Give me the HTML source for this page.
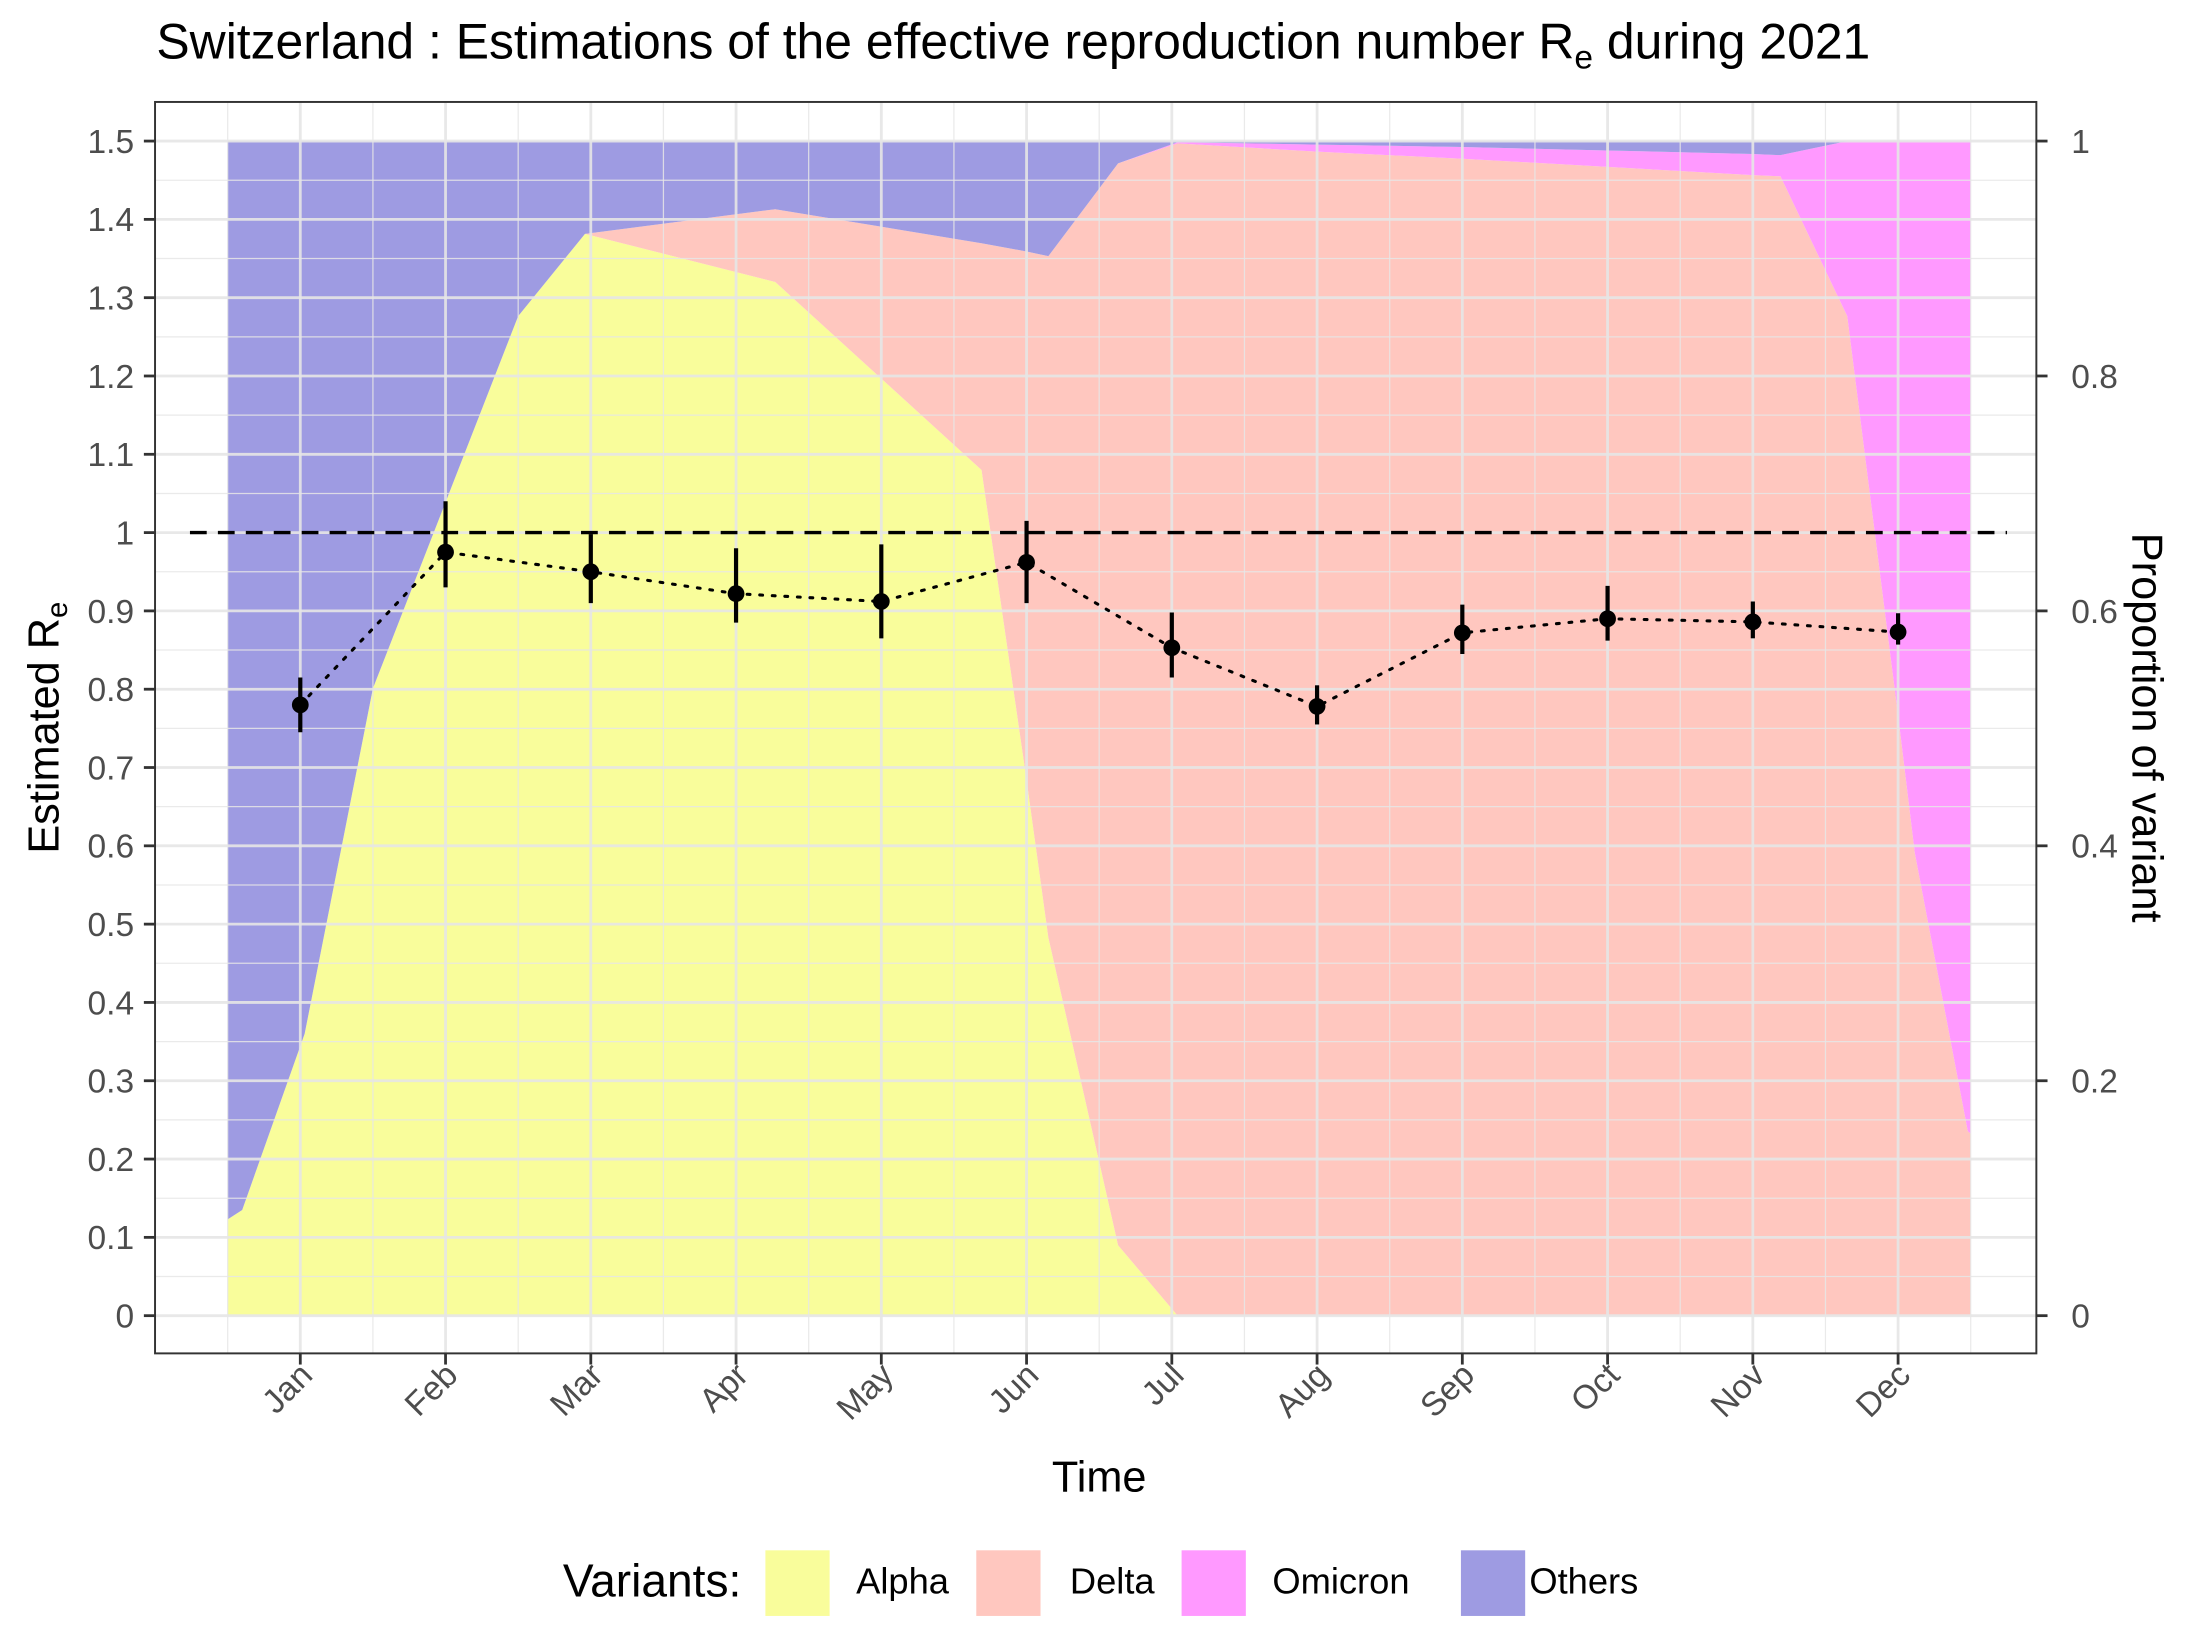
<!DOCTYPE html>
<html><head><meta charset="utf-8"><style>
html,body{margin:0;padding:0;background:#fff;}
svg{display:block;font-family:"Liberation Sans",Arial,sans-serif;}
</style></head><body>
<svg id="chart" width="2190" height="1642" viewBox="0 0 1568 1175.65" xmlns="http://www.w3.org/2000/svg">
<rect x="0" y="0" width="1568" height="1176" fill="#fff"/>
<g id="areas"></g>
<g id="grid"></g>
<g id="marks"></g>
<rect x="111" y="73" width="1347" height="896" fill="none" stroke="#333" stroke-width="1.4"/>
<g id="axes"></g>
<text x="112" y="42" fill="#000" style="font-size:35.7px">Switzerland : Estimations of the effective reproduction number R<tspan style="font-size:24px" dy="7">e</tspan><tspan dy="-7"> during 2021</tspan></text>
<text x="787" y="1068" text-anchor="middle" fill="#000" style="font-size:31px">Time</text>
<text transform="translate(42,521) rotate(-90)" text-anchor="middle" fill="#000" style="font-size:31px">Estimated R<tspan style="font-size:21px" dy="6">e</tspan></text>
<text transform="translate(1527,521) rotate(90)" text-anchor="middle" fill="#000" style="font-size:31px">Proportion of variant</text>
<g>
<text x="403" y="1143" fill="#000" style="font-size:33px">Variants:</text>
<rect x="548" y="1110" width="46" height="47" fill="#F9FD9B"/>
<text x="613" y="1141" fill="#000" style="font-size:26px">Alpha</text>
<rect x="699" y="1110" width="46" height="47" fill="#FFC7BF"/>
<text x="766" y="1141" fill="#000" style="font-size:26px">Delta</text>
<rect x="846" y="1110" width="46" height="47" fill="#FF99FF"/>
<text x="911" y="1141" fill="#000" style="font-size:26px">Omicron</text>
<rect x="1046" y="1110" width="46" height="47" fill="#9E9BE2"/>
<text x="1095" y="1141" fill="#000" style="font-size:26px">Others</text>
</g>
</svg>
<script>
const months = ["Jan","Feb","Mar","Apr","May","Jun","Jul","Aug","Sep","Oct","Nov","Dec"];
const reValues = [0.78,0.975,0.95,0.922,0.912,0.962,0.853,0.778,0.872,0.89,0.886,0.873];
const reLower = [0.745,0.93,0.91,0.885,0.865,0.91,0.815,0.755,0.845,0.862,0.865,0.857];
const reUpper = [0.815,1.04,0.998,0.98,0.985,1.015,0.898,0.805,0.908,0.932,0.912,0.897];
const varTimes = [-0.5,-0.4,0.03,0.5,1.5,1.96,3.27,4.69,5.0,5.15,5.63,6.04,7,8,9,10,10.19,10.65,11.01,11.115,11.48,11.5];
const alphaProp = [0.082,0.09,0.24,0.534,0.851,0.921,0.88,0.72,0.456,0.322,0.06,0,0,0,0,0,0,0,0,0,0,0];
const deltaProp = [0,0,0,0,0,0,0.062,0.193,0.45,0.58,0.921,0.998,0.991,0.985,0.978,0.971,0.97,0.851,0.501,0.394,0.157,0.155];
const omicronProp = [0,0,0,0,0,0,0,0,0,0,0,0.001,0.006,0.01,0.014,0.018,0.018,0.149,0.499,0.606,0.843,0.845];
const yTicks = [0,0.1,0.2,0.3,0.4,0.5,0.6,0.7,0.8,0.9,1,1.1,1.2,1.3,1.4,1.5];
const yTickLabels = ["0","0.1","0.2","0.3","0.4","0.5","0.6","0.7","0.8","0.9","1","1.1","1.2","1.3","1.4","1.5"];
const y2Ticks = [0,0.2,0.4,0.6,0.8,1];
const y2TickLabels = ["0","0.2","0.4","0.6","0.8","1"];
const threshold = 1;

const NS="http://www.w3.org/2000/svg";
const X0=215, DX=104, Y0=942, Y15=101;
const xs = t => X0 + t*DX;
const ys = v => Y0 - v*(Y0-Y15)/1.5;
const yp = p => Y0 - p*(Y0-Y15);
function mk(tag, attrs, parent){const e=document.createElementNS(NS,tag);for(const k in attrs)e.setAttribute(k,attrs[k]);parent.appendChild(e);return e;}

const areas=document.getElementById('areas');
const n=varTimes.length;
const cum0=[],cum1=[],cum2=[],cum3=[];
for(let i=0;i<n;i++){cum0.push(0);cum1.push(alphaProp[i]);cum2.push(alphaProp[i]+deltaProp[i]);cum3.push(alphaProp[i]+deltaProp[i]+omicronProp[i]);}
const cumTop=varTimes.map(()=>1);
function band(lo,hi,fill,name){
  let d="";
  for(let i=0;i<n;i++)d+=(i?"L":"M")+xs(varTimes[i]).toFixed(2)+","+yp(hi[i]).toFixed(2);
  for(let i=n-1;i>=0;i--)d+="L"+xs(varTimes[i]).toFixed(2)+","+yp(lo[i]).toFixed(2);
  const p=mk('path',{d:d+"Z",fill:fill},areas);
  
  
}
band(cum0,cum1,"#F9FD9B","area-alpha");
band(cum1,cum2,"#FFC7BF","area-delta");
band(cum2,cum3,"#FF99FF","area-omicron");
band(cum3,cumTop,"#9E9BE2","area-others");

const grid=document.getElementById('grid');
for(let v=0.05;v<1.55;v+=0.1){
  const l=mk('line',{x1:111,x2:1458,y1:ys(v),y2:ys(v),stroke:"#E6E6E6","stroke-opacity":0.85,"stroke-width":0.9},grid);
  
  
}
yTicks.forEach(v=>{
  const l=mk('line',{x1:111,x2:1458,y1:ys(v),y2:ys(v),stroke:"#E6E6E6","stroke-opacity":0.9,"stroke-width":2},grid);
  
  
});
for(let i=-0.5;i<12;i+=1){
  const l=mk('line',{x1:xs(i),x2:xs(i),y1:73,y2:969,stroke:"#E6E6E6","stroke-opacity":0.85,"stroke-width":0.9},grid);
  
  
}
months.forEach((m,i)=>{
  const l=mk('line',{x1:xs(i),x2:xs(i),y1:73,y2:969,stroke:"#E6E6E6","stroke-opacity":0.9,"stroke-width":2},grid);
  
  
});

const marks=document.getElementById('marks');
const th=mk('line',{x1:136,x2:1437,y1:ys(threshold),y2:ys(threshold),stroke:"#000","stroke-width":2.4,"stroke-dasharray":"12 8"},marks);


let pd="";
reValues.forEach((v,i)=>{pd+=(i?"L":"M")+xs(i)+","+ys(v);});
const dl=mk('path',{d:pd,fill:"none",stroke:"#000","stroke-width":2.2,"stroke-dasharray":"2 7","stroke-linecap":"round"},marks);


reValues.forEach((v,i)=>{
  const e=mk('line',{x1:xs(i),x2:xs(i),y1:ys(reLower[i]),y2:ys(reUpper[i]),stroke:"#000","stroke-width":3},marks);
  
  
  const c=mk('circle',{cx:xs(i),cy:ys(v),r:6,fill:"#000"},marks);
  
  
});

const axes=document.getElementById('axes');
yTicks.forEach((v,i)=>{
  const t=mk('line',{x1:103,x2:111,y1:ys(v),y2:ys(v),stroke:"#333","stroke-width":2},axes);
  
  
  const tx=mk('text',{x:96,y:ys(v)+8.5,"text-anchor":"end",fill:"#4D4D4D",style:"font-size:24px"},axes);
  tx.textContent=yTickLabels[i];
  
  
});
y2Ticks.forEach((p,i)=>{
  const t=mk('line',{x1:1458,x2:1466,y1:yp(p),y2:yp(p),stroke:"#333","stroke-width":2},axes);
  
  
  const tx=mk('text',{x:1483,y:yp(p)+8.5,fill:"#4D4D4D",style:"font-size:24px"},axes);
  tx.textContent=y2TickLabels[i];
  
  
});
months.forEach((m,i)=>{
  const t=mk('line',{x1:xs(i),x2:xs(i),y1:969,y2:977,stroke:"#333","stroke-width":2},axes);
  
  
  const tx=mk('text',{transform:`translate(${xs(i)+10},${986}) rotate(-45)`,"text-anchor":"end",fill:"#4D4D4D",style:"font-size:24px"},axes);
  tx.textContent=m;
  
  
});
</script>
</body></html>
